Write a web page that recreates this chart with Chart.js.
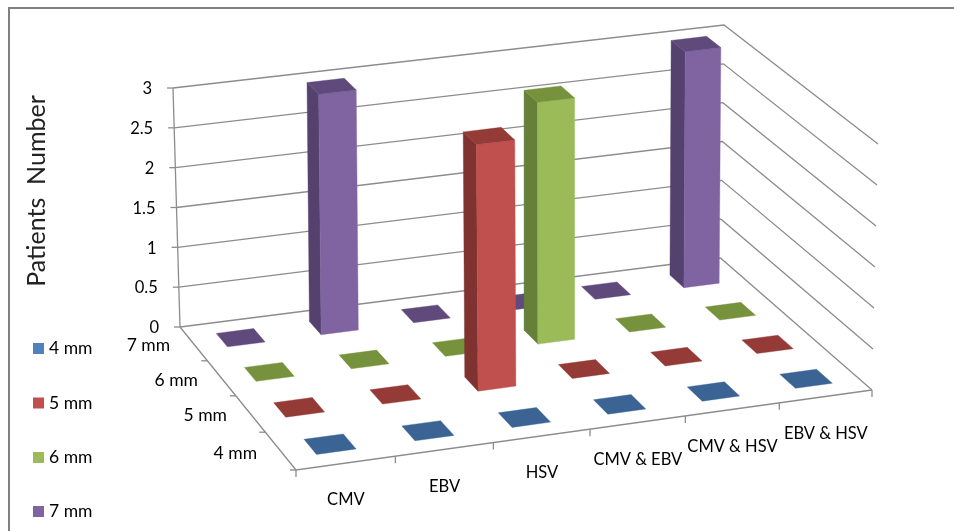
<!DOCTYPE html>
<html>
<head>
<meta charset="utf-8">
<style>
  html, body { margin: 0; padding: 0; background: #fff; }
  #wrap { width: 954px; height: 531px; position: relative; overflow: hidden; }
</style>
<script src="https://cdn.jsdelivr.net/npm/chart.js@4"></script>
</head>
<body>
<div id="wrap"><canvas id="chart" width="954" height="531"></canvas></div>
<script>
const categories = ['CMV', 'EBV', 'HSV', 'CMV & EBV', 'CMV & HSV', 'EBV & HSV'];
const depthLabels = ['4 mm', '5 mm', '6 mm', '7 mm'];
const valueTicks = [0, 0.5, 1, 1.5, 2, 2.5, 3];

const values4mm = [0, 0, 0, 0, 0, 0];
const values5mm = [0, 0, 3, 0, 0, 0];
const values6mm = [0, 0, 0, 3, 0, 0];
const values7mm = [0, 3, 0, 0, 0, 3];
const seriesValues = [values4mm, values5mm, values6mm, values7mm];

const frontColors = ['#4F81BD', '#C0504D', '#9BBB59', '#8064A2'];
const sideColors = ['#3A6090', '#7F322F', '#667F39', '#54416E'];
const topColors = ['#3B6494', '#943A37', '#76923C', '#604A7B'];

const GRID = '#8c8c8c';
const BAR_SHARE = 0.4; // bar width as a share of its cell
const BAR_LEAN = 0.5; // bars lean outward less than the walls do
const zMax = valueTicks[valueTicks.length - 1];

// camera: where the floor corners and the wall tops landed in the picture
const floorQuad = [[296, 470], [872, 390], [720.5, 258], [180, 327]];
const liftFL = [-9, -255], liftFR = [6, -246], liftBR = [3.5, -233], liftBL = [-7, -239];

const [[x0, y0], [x1, y1], [x2, y2], [x3, y3]] = floorQuad;
const den = (x1 - x2) * (y3 - y2) - (x3 - x2) * (y1 - y2);
const sx = x0 - x1 + x2 - x3, sy = y0 - y1 + y2 - y3;
const g = (sx * (y3 - y2) - (x3 - x2) * sy) / den;
const h = ((x1 - x2) * sy - sx * (y1 - y2)) / den;

// u: along categories, v: into the depth, z: value
function project(u, v, z, lean = 1) {
  const w = g * u + h * v + 1;
  const fx = ((x1 - x0 + g * x1) * u + (x3 - x0 + h * x3) * v + x0) / w;
  const fy = ((y1 - y0 + g * y1) * u + (y3 - y0 + h * y3) * v + y0) / w;
  const lift = i => (1 - v) * ((1 - u) * liftFL[i] + u * liftFR[i]) + v * ((1 - u) * liftBL[i] + u * liftBR[i]);
  return { x: fx + lean * lift(0) * z / zMax, y: fy + lift(1) * z / zMax };
}

const layers = []; // back to front

function line(points, width) {
  layers.push({ data: points, showLine: true, fill: false, borderColor: GRID, borderWidth: width || 1.3, pointRadius: 0, tension: 0 });
}
function face(points, color) {
  layers.push({ data: points.concat([points[0]]), showLine: true, fill: 'shape', backgroundColor: color, borderColor: color, borderWidth: 0.4, pointRadius: 0, tension: 0 });
}
function shift(p, dx, dy) { return { x: p.x + dx, y: p.y + dy }; }

// walls
valueTicks.forEach(t => {
  line([project(0, 1, t), project(1, 1, t), project(1, 0, t)]);
  line([shift(project(0, 1, t), -6, 0), project(0, 1, t)]);
});
line([project(0, 1, 0), project(0, 1, zMax)]);
// floor edges and ticks
line([project(0, 1, 0), project(0, 0, 0), project(1, 0, 0)]);
categories.forEach((c, i) => {
  const p = project(i / categories.length, 0, 0);
  line([p, shift(p, 0, 7)]);
});
const lastTick = project(1, 0, 0);
line([lastTick, shift(lastTick, 0, 7)]);
depthLabels.forEach((d, k) => {
  const p = project(0, k / depthLabels.length, 0);
  line([p, shift(p, -6, 0)]);
});

// bars, back row first
for (let k = depthLabels.length - 1; k >= 0; k--) {
  for (let i = categories.length - 1; i >= 0; i--) {
    const val = seriesValues[k][i];
    const du = 1 / categories.length, dv = 1 / depthLabels.length;
    const u0 = (i + 0.5 - BAR_SHARE / 2) * du, u1 = (i + 0.5 + BAR_SHARE / 2) * du;
    const v0 = (k + 0.5 - BAR_SHARE / 2) * dv, v1 = (k + 0.5 + BAR_SHARE / 2) * dv;
    const at = (u, v, z) => project(u, v, z, BAR_LEAN);
    if (val > 0) {
      face([at(u0, v0, 0), at(u0, v1, 0), at(u0, v1, val), at(u0, v0, val)], sideColors[k]);
      face([at(u0, v0, 0), at(u1, v0, 0), at(u1, v0, val), at(u0, v0, val)], frontColors[k]);
    }
    face([at(u0, v0, val), at(u1, v0, val), at(u1, v1, val), at(u0, v1, val)], topColors[k]);
  }
}

const textPlugin = {
  id: 'labels3d',
  afterDraw(chart) {
    const { ctx, scales } = chart;
    const px = p => ({ x: scales.x.getPixelForValue(p.x), y: scales.y.getPixelForValue(p.y) });
    ctx.save();
    ctx.fillStyle = '#000';
    ctx.textBaseline = 'middle';
    ctx.font = '16.5px Lato';

    ctx.textAlign = 'right';
    valueTicks.forEach(t => {
      const p = px(project(0, 1, t));
      ctx.fillText(String(t), p.x - 21, p.y + 1);
    });
    ctx.font = '17.5px Lato';
    depthLabels.forEach((d, k) => {
      const p = px(project(0, (k + 0.5) / depthLabels.length, 0));
      ctx.fillText(d, p.x - 23.5, p.y + 2);
    });

    ctx.font = '16.5px Lato';
    ctx.textAlign = 'center';
    categories.forEach((c, i) => {
      const p = px(project((i + 0.5) / categories.length, 0, 0));
      ctx.fillText(c, p.x, p.y + 37);
    });

    // legend
    ctx.font = '17.5px Lato';
    ctx.textAlign = 'left';
    const legendY = [348.5, 403, 457.5, 511.5];
    depthLabels.forEach((d, k) => {
      ctx.fillStyle = frontColors[k];
      ctx.fillRect(33, legendY[k] - 5.5, 11, 11);
      ctx.fillStyle = '#000';
      ctx.fillText(d, 49, legendY[k]);
    });

    // value axis title
    ctx.save();
    ctx.translate(37, 191);
    ctx.rotate(-Math.PI / 2);
    ctx.textAlign = 'center';
    ctx.font = '25px Lato';
    ctx.fillStyle = '#222';
    ctx.fillText('Patients  Number', 0, 0);
    ctx.restore();

    // picture frame, top and left only
    ctx.fillStyle = '#808080';
    ctx.fillRect(8, 7, 946, 2);
    ctx.fillRect(8, 7, 2, 524);
    ctx.restore();
  }
};

new Chart(document.getElementById('chart').getContext('2d'), {
  type: 'scatter',
  data: { datasets: layers.reverse() }, // Chart.js paints the last dataset first
  options: {
    responsive: false,
    animation: false,
    devicePixelRatio: 1,
    layout: { padding: 0 },
    plugins: { legend: { display: false }, tooltip: { enabled: false } },
    scales: {
      x: { type: 'linear', min: 0, max: 954, display: false },
      y: { type: 'linear', min: 0, max: 531, reverse: true, display: false }
    }
  },
  plugins: [textPlugin]
});
</script>
</body>
</html>
